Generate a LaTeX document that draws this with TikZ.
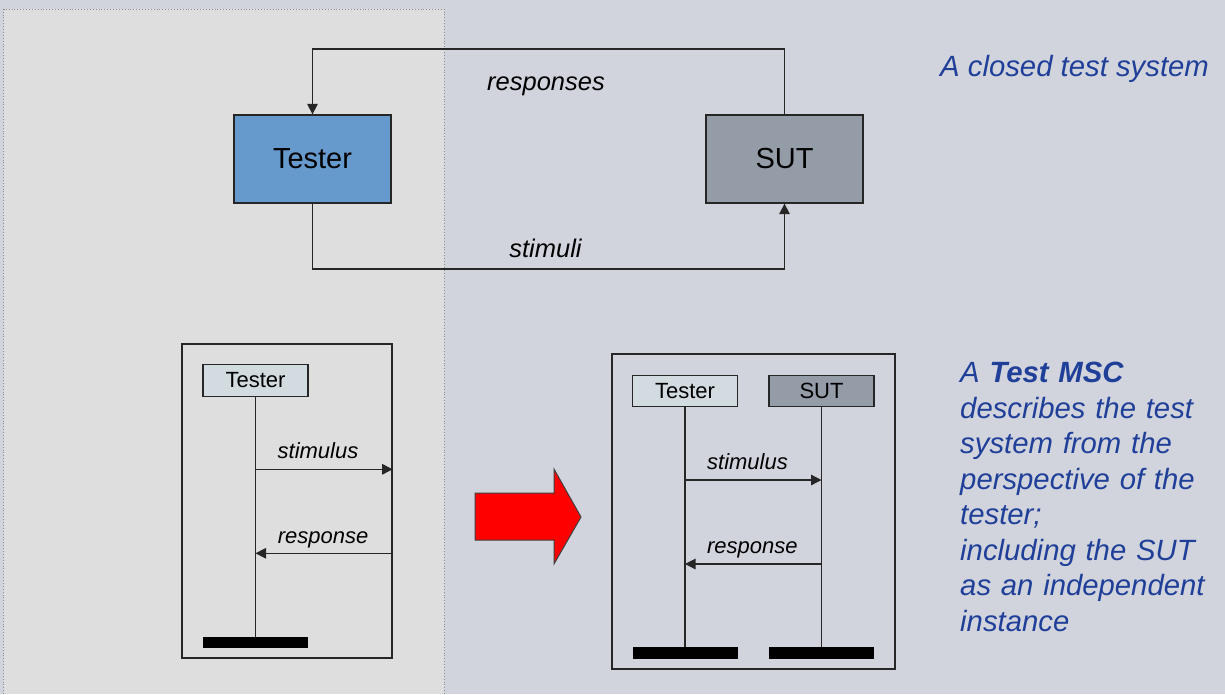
\documentclass[tikz,border=0pt]{standalone}
\usepackage{fontspec}
\setmainfont{Liberation Sans}
\usetikzlibrary{arrows.meta}
\definecolor{bgcol}{HTML}{D1D4DC}
\definecolor{panelcol}{HTML}{DEDEDE}
\definecolor{testerblue}{HTML}{6699CC}
\definecolor{sutgrey}{HTML}{949CA8}
\definecolor{headlight}{HTML}{D2DCE0}
\definecolor{noteblue}{HTML}{1F3F99}
\definecolor{arrowred}{HTML}{FF0000}
\begin{document}
\begin{tikzpicture}[x=1pt,y=-1pt,
  line/.style={draw=black!85, line width=1.3pt},
  flow/.style={line, -{Triangle[length=10.5pt,width=10.5pt]}},
  bigbox/.style={line, minimum width=157pt, minimum height=88pt, inner sep=0pt, font=\fontsize{29}{34}\selectfont},
  head/.style={line, minimum width=105pt, minimum height=31.5pt, inner sep=0pt, font=\fontsize{22}{26}\selectfont},
  endbar/.style={fill=black, minimum width=105pt, minimum height=11.5pt, inner sep=0pt},
  mscframe/.style={line, inner sep=0pt},
  msglabel/.style={font=\fontsize{22}{26}\selectfont\itshape, inner sep=0pt, anchor=base},
  flowlabel/.style={font=\fontsize{25.5}{30}\selectfont\itshape, inner sep=0pt, anchor=base},
  note/.style={text=noteblue, font=\fontsize{29.3}{35.5}\selectfont\itshape, inner sep=0pt, align=left}
]
% canvas and the shaded tester panel
\fill[bgcol] (0,0) rectangle (1225,694);
\useasboundingbox (0,0) rectangle (1225,694);
\fill[panelcol] (3.5,9) rectangle (444,694);
\draw[black!45, dotted, line width=0.9pt] (3.5,694) -- (3.5,9) -- (444,9) -- (444,694);

% closed test system
\node[bigbox, fill=testerblue] (tester) at (312.5,159) {Tester};
\node[bigbox, fill=sutgrey] (sut) at (784.5,159) {SUT};
\coordinate (toprail) at (0,49);
\coordinate (botrail) at (0,269);
\draw[flow] (sut.north) -- (sut.north |- toprail) -- (tester.north |- toprail) -- (tester.north);
\draw[flow] (tester.south) -- (tester.south |- botrail) -- (sut.south |- botrail) -- (sut.south);
\node[flowlabel] (resptext) at (546,90) {responses};
\node[flowlabel] (stimtext) at (545.5,257.5) {stimuli};
\node[note, anchor=base west] (closed) at (940,76) {A closed test system};

% Test MSC with the tester only
\node[mscframe, minimum width=210pt, minimum height=314pt] (lframe) at (287,501) {};
\node[head, fill=headlight] (lhead) at (255.5,380.5) {Tester};
\node[endbar] (lend) at (255.5,642.5) {};
\draw[line] (lhead.south) -- (lend.north);
\coordinate (lstim) at (0,469.3);
\coordinate (lresp) at (0,553.3);
\draw[flow] (lhead.south |- lstim) -- (lframe.east |- lstim);
\draw[flow] (lframe.east |- lresp) -- (lhead.south |- lresp);
\node[msglabel] (lstimtext) at (318,458.3) {stimulus};
\node[msglabel] (lresptext) at (323,543) {response};

% transformation arrow
\filldraw[fill=arrowred, draw=black!75, line width=1pt]
  (475,493) -- (554,493) -- (554,469) -- (581,517) -- (554,564) -- (554,540) -- (475,540) -- cycle;

% Test MSC with the SUT as an instance
\node[mscframe, minimum width=283pt, minimum height=315pt] (rframe) at (753.5,511.5) {};
\node[head, fill=headlight] (rtester) at (685,391) {Tester};
\node[head, fill=sutgrey] (rsut) at (821.5,391) {SUT};
\node[endbar] (rtend) at (685,653) {};
\node[endbar] (rsend) at (821.5,653) {};
\draw[line] (rtester.south) -- (rtend.north);
\draw[line] (rsut.south) -- (rsend.north);
\coordinate (rstim) at (0,480);
\coordinate (rresp) at (0,564);
\draw[flow] (rtester.south |- rstim) -- (rsut.south |- rstim);
\draw[flow] (rsut.south |- rresp) -- (rtester.south |- rresp);
\node[msglabel] (rstimtext) at (747.5,469.3) {stimulus};
\node[msglabel] (rresptext) at (752.3,553.3) {response};

\node[note, anchor=north west, text width=270pt] (mscnote) at (960,362)
  {A \textbf{Test MSC}\\ describes the test\\ system from the\\ perspective of the\\ tester;\\ including the SUT\\ as an independent\\ instance};
\end{tikzpicture}
\end{document}
